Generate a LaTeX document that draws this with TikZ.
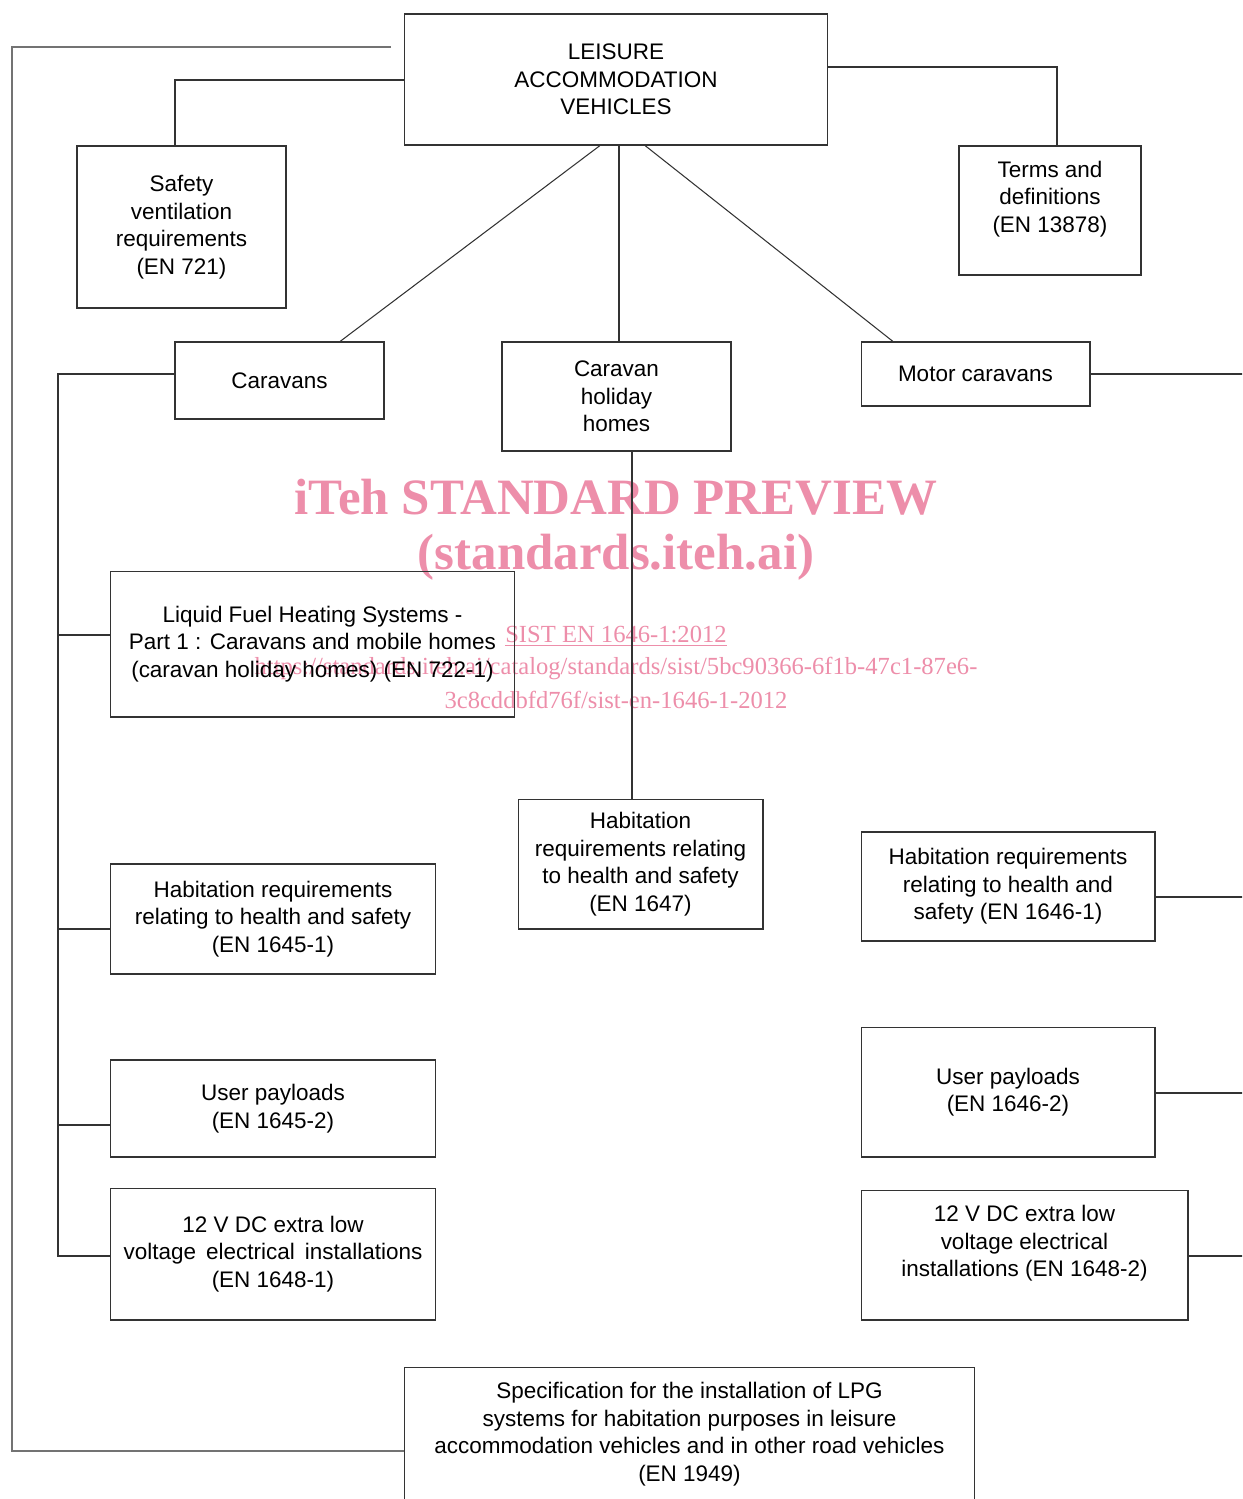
\documentclass[tikz,border=0pt]{standalone}
\usepackage{fontspec}
\setmainfont{Liberation Sans}
\newfontfamily\wmfont{Liberation Serif}
\definecolor{wmpink}{RGB}{237,142,170}
\tikzstyle{stdbox}=[rectangle,draw=black!80,line width=0.6pt,align=center,inner sep=0pt,font=\fontsize{12.8}{15.65}\selectfont]
\tikzstyle{link}=[draw=black!80,line width=0.6pt]
\tikzstyle{wmark}=[text=wmpink,inner sep=0pt,font=\wmfont\fontsize{14}{16}\selectfont]
\tikzstyle{wmbig}=[text=wmpink,inner sep=0pt,font=\wmfont\bfseries\fontsize{29}{34}\selectfont]

\begin{document}
\begin{tikzpicture}[x=0.02cm,y=-0.02cm]
	\useasboundingbox (0,0) rectangle (1242,1499);
	\clip (0,0) rectangle (1242,1499);

	% watermark
	\node at (616,497) [wmbig] (wm1) {iTeh STANDARD PREVIEW};
	\node at (616,557) [wmbig] (wm2) {(standards.iteh.ai)};
	\node at (616,636) [wmark] (wm3) {\underline{SIST EN 1646-1:2012}};
	\node at (616,668) [wmark] (wm4) {https://standards.iteh.ai/catalog/standards/sist/5bc90366-6f1b-47c1-87e6-};
	\node at (616,700) [wmark] (wm5) {3c8cddbfd76f/sist-en-1646-1-2012};

	\node at (616,79.5) [stdbox,minimum width=8.48cm,minimum height=2.62cm] (lav) {LEISURE\\ACCOMMODATION\\VEHICLES};
	\node at (181.5,227) [stdbox,minimum width=4.18cm,minimum height=3.24cm] (safety) {Safety\\ventilation\\requirements\\(EN 721)};
	\node at (1050,210.5) [stdbox,minimum width=3.64cm,minimum height=2.58cm] (terms) {Terms and\\definitions\\(EN 13878)\\~};
	\node at (279.5,380.5) [stdbox,minimum width=4.18cm,minimum height=1.54cm] (caravans) {Caravans};
	\node at (616.5,396.5) [stdbox,minimum width=4.58cm,minimum height=2.18cm] (chh) {Caravan\\holiday\\homes};
	\node at (975.5,374) [stdbox,minimum width=4.58cm,minimum height=1.28cm] (motor) {Motor caravans};
	\node at (312.5,644) [stdbox,minimum width=8.10cm,minimum height=2.92cm] (lfhs) {Liquid Fuel Heating Systems -\\Part 1 : Caravans and mobile homes\\(caravan holiday homes) (EN 722-1)};
	\node at (640.5,864) [stdbox,minimum width=4.90cm,minimum height=2.60cm] (hab47) {Habitation\\requirements relating\\to health and safety\\(EN 1647)};
	\node at (1008,886.5) [stdbox,minimum width=5.88cm,minimum height=2.18cm] (hab461) {Habitation requirements\\relating to health and\\safety (EN 1646-1)};
	\node at (273,919) [stdbox,minimum width=6.52cm,minimum height=2.20cm] (hab451) {Habitation requirements\\relating to health and safety\\(EN 1645-1)};
	\node at (273,1108.5) [stdbox,minimum width=6.52cm,minimum height=1.94cm] (user452) {User payloads\\(EN 1645-2)};
	\node at (1008,1092) [stdbox,minimum width=5.88cm,minimum height=2.60cm] (user462) {User payloads\\(EN 1646-2)};
	\node at (273,1254) [stdbox,minimum width=6.52cm,minimum height=2.64cm] (volt481) {12 V DC extra low\\voltage\ \,electrical\ \,installations\\(EN 1648-1)};
	\node at (1024.5,1255) [stdbox,minimum width=6.54cm,minimum height=2.60cm] (volt482) {12 V DC extra low\\voltage electrical\\installations (EN 1648-2)\\~};
	\node at (689.5,1434) [stdbox,minimum width=11.42cm,minimum height=2.68cm] (lpg) {Specification for the installation of LPG\\systems for habitation purposes in leisure\\accommodation vehicles and in other road vehicles\\(EN 1949)};

	\coordinate (topend) at (391,47);
	\coordinate (lspine) at (12,0);
	\coordinate (cspine) at (58,0);
	\coordinate (rspine) at (1262,0);

	\draw [link,draw=black!55] (topend) -| (lspine |- 0,1451) -- (lpg.west |- 0,1451);
	\draw [link] (lav.west |- 0,80) -| (safety.north -| 175,0);
	\draw [link] (lav.east |- 0,67) -| (terms.north -| 1057,0);
	\draw [link] (lav.south -| 600,0) -- (caravans.north -| 340,0);
	\draw [link] (lav.south -| 619,0) -- (chh.north -| 619,0);
	\draw [link] (lav.south -| 645,0) -- (motor.north -| 893,0);
	\draw [link] (chh.south -| 632,0) -- (hab47.north -| 632,0);

	% left spine
	\draw [link] (caravans.west |- 0,374) -- (cspine |- 0,374) -- (cspine |- 0,1256) -- (volt481.west |- 0,1256);
	\foreach \n/\y in {lfhs/635,hab451/929,user452/1125}
		\draw [link] (\n.west |- 0,\y) -- (cspine |- 0,\y);

	% right spine
	\draw [link] (motor.east) -- (rspine |- motor.east) -- (rspine |- 0,1256) -- (volt482.east |- 0,1256);
	\foreach \n/\y in {hab461/897,user462/1093}
		\draw [link] (\n.east |- 0,\y) -- (rspine |- 0,\y);
\end{tikzpicture}
\end{document}
